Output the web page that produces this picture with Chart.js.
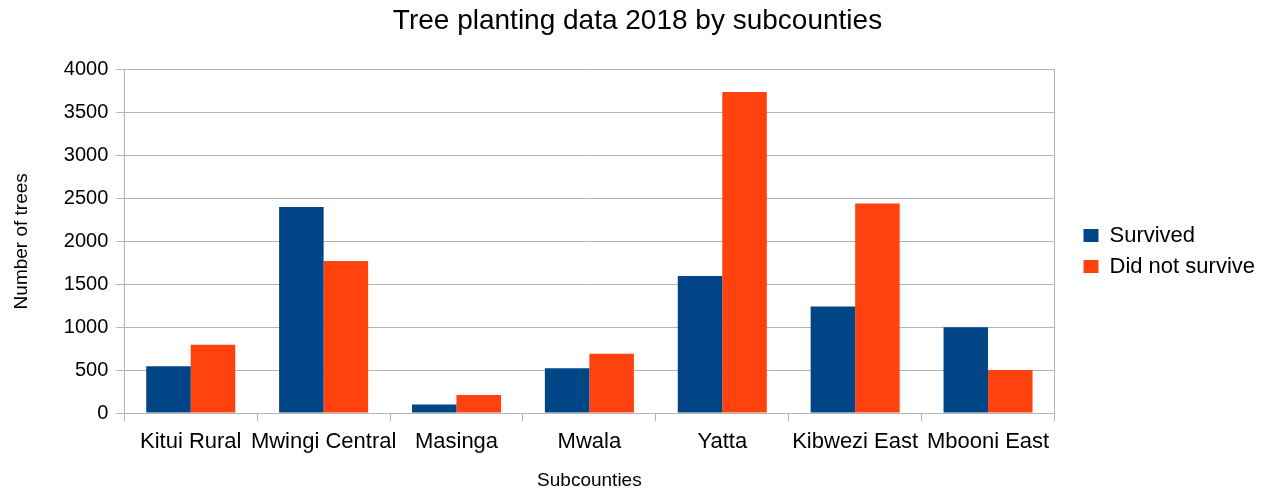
<!DOCTYPE html>
<html>
<head>
<meta charset="utf-8">
<title>Tree planting data 2018</title>
<script src="https://cdn.jsdelivr.net/npm/chart.js@4/dist/chart.umd.min.js"></script>
<style>
  html, body { margin: 0; padding: 0; background: #fff; }
  #wrap { width: 1267px; height: 490px; position: relative; }
</style>
</head>
<body>
<div id="wrap"><canvas id="treeChart"></canvas></div>
<script>
const subcounties = ['Kitui Rural', 'Mwingi Central', 'Masinga', 'Mwala', 'Yatta', 'Kibwezi East', 'Mbooni East'];
const survived = [545, 2400, 100, 520, 1595, 1240, 1000];
const notSurvived = [795, 1770, 210, 690, 3740, 2440, 500];
const yTicks = [0, 500, 1000, 1500, 2000, 2500, 3000, 3500, 4000];

const gridGray = '#b3b3b3';
const fontFamily = '"Liberation Sans", Arial, sans-serif';

const ctx = document.getElementById('treeChart').getContext('2d');

new Chart(ctx, {
    type: 'bar',
    data: {
        labels: subcounties,
        datasets: [
            {
                label: 'Survived',
                data: survived,
                backgroundColor: '#004586',
                categoryPercentage: 0.67,
                barPercentage: 1.0
            },
            {
                label: 'Did not survive',
                data: notSurvived,
                backgroundColor: '#ff420e',
                categoryPercentage: 0.67,
                barPercentage: 1.0
            }
        ]
    },
    options: {
        responsive: true,
        maintainAspectRatio: false,
        animation: false,
        layout: { padding: { left: 10, right: 2, top: 0, bottom: 0 } },
        plugins: {
            title: {
                display: true,
                text: 'Tree planting data 2018 by subcounties',
                color: '#000',
                font: { family: fontFamily, size: 28, weight: 'normal' },
                padding: { top: 4, bottom: 32 }
            },
            legend: {
                position: 'right',
                // blank title row nudges the entries a little lower
                title: { display: true, text: '', font: { size: 10 }, padding: 0 },
                labels: {
                    color: '#000',
                    font: { family: fontFamily, size: 22 },
                    boxWidth: 15,
                    boxHeight: 13,
                    padding: 9
                }
            },
            tooltip: { enabled: false }
        },
        scales: {
            x: {
                grid: {
                    offset: true,
                    drawOnChartArea: false,
                    color: gridGray,
                    tickLength: 8
                },
                border: { color: gridGray },
                ticks: {
                    color: '#000',
                    font: { family: fontFamily, size: 22, lineHeight: 1 },
                    padding: 10,
                    maxRotation: 0,
                    autoSkip: false
                },
                title: {
                    display: true,
                    text: 'Subcounties',
                    color: '#000',
                    font: { family: fontFamily, size: 19, lineHeight: 1 },
                    padding: { top: 8, bottom: 0 }
                }
            },
            y: {
                min: 0,
                max: 4000,
                afterBuildTicks: (scale) => {
                    scale.ticks = yTicks.map(v => ({ value: v }));
                },
                grid: { color: gridGray, tickLength: 8 },
                border: { color: gridGray },
                ticks: {
                    color: '#000',
                    font: { family: fontFamily, size: 20 },
                    padding: 8,
                    callback: (v) => String(v)
                },
                title: {
                    display: true,
                    text: 'Number of trees',
                    color: '#000',
                    font: { family: fontFamily, size: 19 },
                    padding: { top: 0, bottom: 23 }
                }
            },
            // empty axis on the right: closes the plot frame and spaces out the legend
            yRight: {
                position: 'right',
                min: 0,
                max: 4000,
                ticks: { display: false },
                grid: { display: false },
                border: { display: true, color: gridGray },
                afterFit: (scale) => { scale.width = 20; }
            }
        }
    }
});
</script>
</body>
</html>
